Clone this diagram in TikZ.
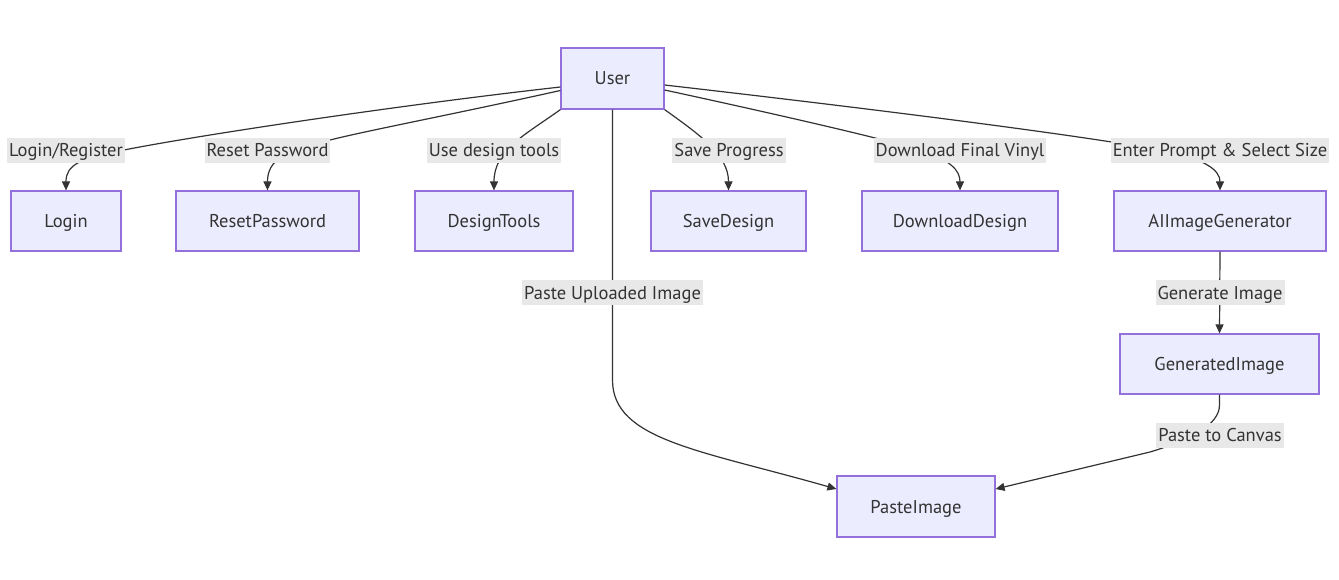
\documentclass[tikz,border=0pt]{standalone}
\usepackage{fontspec}
\setmainfont{PT Sans}
\usetikzlibrary{arrows.meta}
\definecolor{nodefill}{HTML}{ECECFF}
\definecolor{nodeline}{HTML}{9370DB}
\definecolor{edgecol}{HTML}{333333}
\definecolor{lblbg}{HTML}{E8E8E8}
\begin{document}
\begin{tikzpicture}[x=1pt,y=-1pt,
  txt/.style={font=\fontsize{18.5}{22}\selectfont,text=edgecol,text height=17pt,text depth=4pt},
  box/.style={txt,draw=nodeline,fill=nodefill,line width=1.2pt,minimum height=60pt,inner sep=0pt},
  lbl/.style={txt,fill=lblbg,inner xsep=2pt,inner ysep=2pt,minimum height=25pt},
  edge/.style={draw=edgecol,line width=1.2pt,-{Triangle[length=9pt,width=8pt]}}]
\useasboundingbox[fill=white] (0,0) rectangle (1339,580);
% nodes
\node[box,minimum width=103pt,minimum height=61pt] (User) at (612.5,78.5) {User};
\node[box,minimum width=110pt] (Login) at (66,221) {Login};
\node[box,minimum width=183pt] (Reset) at (267.5,221) {ResetPassword};
\node[box,minimum width=158pt] (Tools) at (494,221) {DesignTools};
\node[box,minimum width=155pt] (Save) at (728.5,221) {SaveDesign};
\node[box,minimum width=196pt] (Download) at (960,221) {DownloadDesign};
\node[box,minimum width=212pt] (AI) at (1220,221) {AIImageGenerator};
\node[box,minimum width=199pt] (Gen) at (1219.5,364) {GeneratedImage};
\node[box,minimum width=158pt,minimum height=61pt] (Paste) at (916,506.5) {PasteImage};
% edges
\draw[edge] ([yshift=-8.5pt]User.west) .. controls (400,105) and (200,135) .. (124,150) .. controls (80,158) and (66,165) .. (Login.north);
\draw[edge] ([yshift=-12pt]User.west) .. controls (450,115) and (370,130) .. (330,140) .. controls (285,150) and (267.5,160) .. (Reset.north);
\draw[edge] (User.south west) .. controls (525,135) and (494,150) .. (Tools.north);
\draw[edge] (User.south east) .. controls (700,135) and (728.5,155) .. (Save.north);
\draw[edge] ([yshift=-11.5pt]User.east) .. controls (780,115) and (880,138) .. (920,150) .. controls (950,160) and (960,170) .. (Download.north);
\draw[edge] ([yshift=-6.5pt]User.east) .. controls (900,112) and (1100,138) .. (1170,152) .. controls (1205,160) and (1220,170) .. (AI.north);
\draw[edge] (User.south) -- (612.5,380) .. controls (612.5,440) and (700,450) .. ([yshift=17.5pt]Paste.west);
\draw[edge] (AI.south) -- (Gen.north);
\draw[edge] (Gen.south) -- (1219.5,405) .. controls (1219.5,425) and (1190,440) .. (1150,452) -- ([yshift=17.5pt]Paste.east);
% labels
\node[lbl] (lLogin) at (66,150.5) {Login/Register};
\node[lbl] (lReset) at (267.5,150.5) {Reset Password};
\node[lbl] (lTools) at (494,150.5) {Use design tools};
\node[lbl] (lSave) at (729,150.5) {Save Progress};
\node[lbl] (lDown) at (960,150.5) {Download Final Vinyl};
\node[lbl] (lAI) at (1220,150.5) {Enter Prompt \& Select Size};
\node[lbl] (lUp) at (612.5,292.5) {Paste Uploaded Image};
\node[lbl] (lGen) at (1220,292.5) {Generate Image};
\node[lbl] (lCanvas) at (1220,435) {Paste to Canvas};
\end{tikzpicture}
\end{document}
